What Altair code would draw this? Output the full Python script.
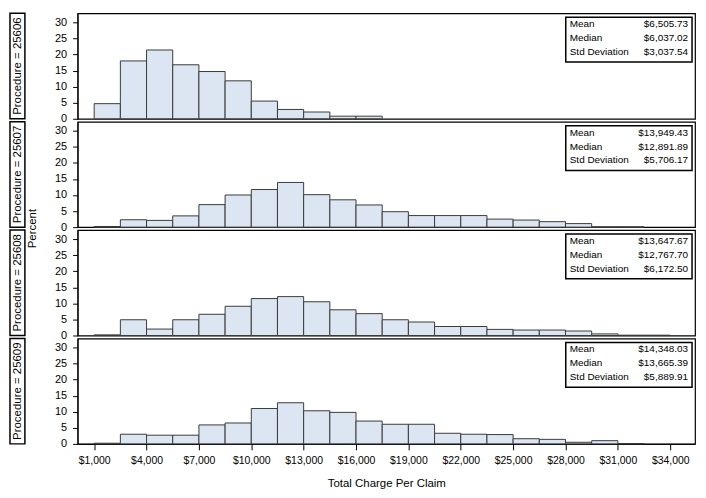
import altair as alt
import pandas as pd

# ---- data ----
bin_start = [1000, 2500, 4000, 5500, 7000, 8500, 10000, 11500, 13000, 14500, 16000,
             17500, 19000, 20500, 22000, 23500, 25000, 26500, 28000, 29500, 31000, 32500]
bin_end = [2500, 4000, 5500, 7000, 8500, 10000, 11500, 13000, 14500, 16000, 17500,
           19000, 20500, 22000, 23500, 25000, 26500, 28000, 29500, 31000, 32500, 34000]
procedures = ["25606", "25607", "25608", "25609"]
pct_25606 = [4.7, 18.0, 21.4, 16.8, 14.7, 11.8, 5.5, 2.9, 2.1, 0.8, 0.8, 0, 0, 0, 0, 0, 0, 0, 0, 0, 0, 0]
pct_25607 = [0.2, 2.3, 2.1, 3.5, 7.0, 10.0, 11.7, 13.9, 10.1, 8.5, 6.9, 4.8, 3.6, 3.6, 3.6, 2.5, 2.2, 1.7, 1.1, 0.1, 0.1, 0]
pct_25608 = [0.2, 4.9, 2.0, 4.9, 6.6, 9.1, 11.5, 12.1, 10.5, 8.0, 6.8, 4.9, 4.2, 2.8, 2.8, 1.9, 1.7, 1.7, 1.4, 0.5, 0.1, 0.1]
pct_25609 = [0.2, 3.0, 2.7, 2.7, 5.9, 6.5, 11.0, 12.8, 10.3, 9.8, 7.1, 6.1, 6.1, 3.3, 3.0, 2.9, 1.6, 1.4, 0.5, 1.0, 0.1, 0]
pcts = [pct_25606, pct_25607, pct_25608, pct_25609]
means = ["$6,505.73", "$13,949.43", "$13,647.67", "$14,348.03"]
medians = ["$6,037.02", "$12,891.89", "$12,767.70", "$13,665.39"]
stds = ["$3,037.54", "$5,706.17", "$6,172.50", "$5,889.91"]
stat_labels = ["Mean", "Median", "Std Deviation"]
x_ticks = [1000, 4000, 7000, 10000, 13000, 16000, 19000, 22000, 25000, 28000, 31000, 34000]
y_ticks = [0, 5, 10, 15, 20, 25, 30]

W = 621
H = 106
FONT = "Liberation Sans"
xscale = alt.Scale(domain=[50, 35420], nice=False, zero=False)
yscale = alt.Scale(domain=[0, 32.8], nice=False)
ROW_Y = [11, 25, 39]


def panel(i, bottom):
    df = pd.DataFrame({"start": bin_start, "end": bin_end, "pct": pcts[i]})
    df = df[df.pct > 0]
    if bottom:
        xaxis = alt.Axis(values=x_ticks, labelExpr="'$' + format(datum.value, ',')",
                         title="Total Charge Per Claim", grid=False, tickSize=6,
                         labelPadding=6, titlePadding=11, labelFontSize=10.5, titleFontSize=11.5)
    else:
        xaxis = None
    bars = alt.Chart(df).mark_bar(fill="#dce6f2", stroke="#3a3a3a", strokeWidth=1).encode(
        x=alt.X("start:Q", scale=xscale, axis=xaxis),
        x2="end:Q",
        y=alt.Y("pct:Q", scale=yscale,
                axis=alt.Axis(values=y_ticks, title=None, grid=False, tickSize=5,
                              labelPadding=6, labelFontSize=11)),
        y2=alt.datum(0),
    )
    values = [means[i], medians[i], stds[i]]
    box = alt.Chart(pd.DataFrame({"a": [0]})).mark_rect(
        fill="white", stroke="black", strokeWidth=1.5).encode(
        x=alt.value(W - 130), x2=alt.value(W - 3), y=alt.value(4), y2=alt.value(49))
    layers = [bars, box]
    for r in range(3):
        rdf = pd.DataFrame({"label": [stat_labels[r]], "value": [values[r]]})
        layers.append(alt.Chart(rdf).mark_text(
            align="left", baseline="middle", font=FONT, fontSize=10, color="black").encode(
            x=alt.value(W - 126), y=alt.value(ROW_Y[r]), text="label:N"))
        layers.append(alt.Chart(rdf).mark_text(
            align="right", baseline="middle", font=FONT, fontSize=10, color="black").encode(
            x=alt.value(W - 7), y=alt.value(ROW_Y[r]), text="value:N"))
    pdf = pd.DataFrame({"t": ["Procedure = " + procedures[i]]})
    rbox = alt.Chart(pdf).mark_rect(fill="white", stroke="black", strokeWidth=1.5).encode(
        x=alt.value(-68), x2=alt.value(-53), y=alt.value(0), y2=alt.value(H))
    rtxt = alt.Chart(pdf).mark_text(angle=270, align="center", baseline="middle",
                                    font=FONT, fontSize=11.5, color="black").encode(
        x=alt.value(-60), y=alt.value(H / 2), text="t:N")
    layers += [rbox, rtxt]
    if i == 1:
        ptxt = alt.Chart(pd.DataFrame({"t": ["Percent"]})).mark_text(
            angle=270, align="center", baseline="middle", font=FONT, fontSize=11.5,
            color="black").encode(x=alt.value(-45), y=alt.value(H + 1.5), text="t:N")
        layers.append(ptxt)
    return alt.layer(*layers).properties(width=W, height=H)


chart = alt.vconcat(*[panel(i, i == 3) for i in range(4)], spacing=3, bounds="flush").properties(
    padding={"left": 0, "top": 2, "right": 2, "bottom": 0}
).configure_view(stroke="black", strokeWidth=1.2).configure_axis(
    labelFont=FONT, titleFont=FONT, labelColor="black", titleColor="black",
    tickColor="black", domainColor="black", titleFontWeight="normal"
)

chart.save("out.html", embed_options={"renderer": "svg", "actions": False})
